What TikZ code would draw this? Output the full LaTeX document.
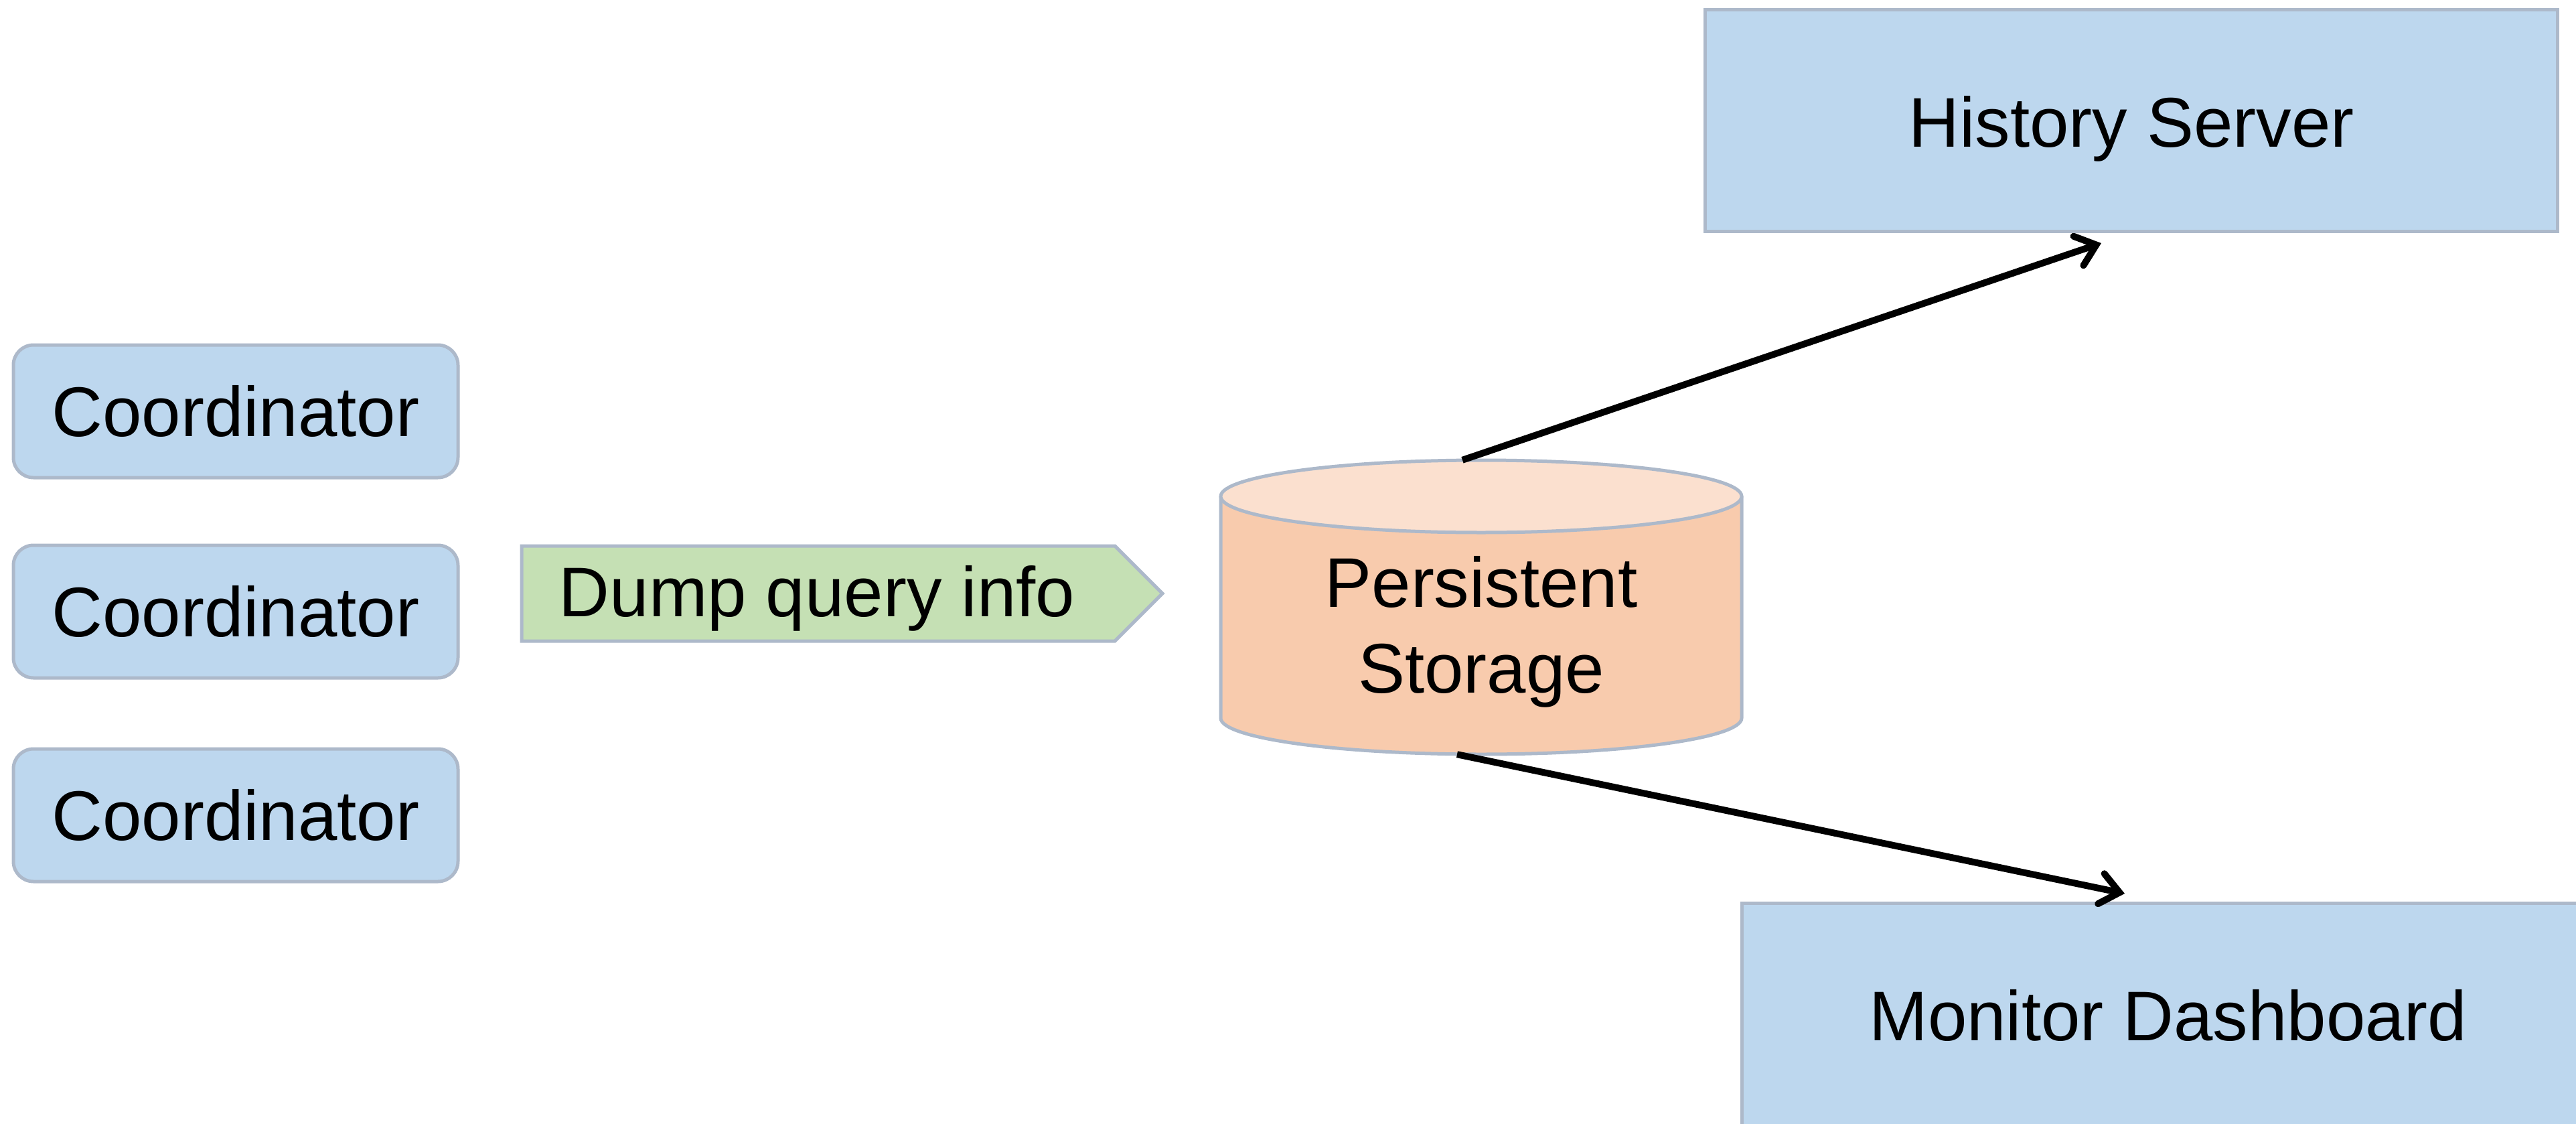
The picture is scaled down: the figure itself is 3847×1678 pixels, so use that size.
\documentclass[tikz,border=0pt]{standalone}
\usepackage{fontspec}
\setmainfont{Liberation Sans}
\usetikzlibrary{arrows.meta,shapes.symbols}
\definecolor{boxblue}{HTML}{BDD7EE}
\definecolor{edgegray}{HTML}{ADB9CA}
\definecolor{dumpgreen}{HTML}{C5E0B4}
\definecolor{cylside}{HTML}{F8CBAD}
\definecolor{cyltop}{HTML}{FBE0CF}
\begin{document}
\begin{tikzpicture}[x=1pt,y=-1pt,
  txt/.style={font=\fontsize{105}{128}\selectfont, text=black},
  coordbox/.style={draw=edgegray, line width=5pt, fill=boxblue, rounded corners=30pt, minimum width=664pt, minimum height=198pt, inner sep=0pt, txt},
  bigbox/.style={draw=edgegray, line width=5pt, fill=boxblue, inner sep=0pt, txt},
  flow/.style={line width=10pt, -{Straight Barb[length=28pt,width=46pt,line cap=round]}}]
\useasboundingbox (0,0) rectangle (3847,1678);
\node[coordbox] (c1) at (352,614) {Coordinator};
\node[coordbox] (c2) at (352,913) {Coordinator};
\node[coordbox] (c3) at (352,1217) {Coordinator};
\node[signal, signal to=east, signal pointer angle=90, draw=edgegray, fill=dumpgreen, line width=5pt, minimum width=957pt, minimum height=142pt, inner sep=0pt] (dump) at (1222,886) {};
\node[txt, inner sep=0pt] (dumptext) at ([xshift=-2pt,yshift=-7pt]dump.center) {Dump query info};
\node[bigbox, minimum width=1273pt, minimum height=331pt] (hist) at (3183,180) {};
\node[txt, inner sep=0pt] (histtext) at ([yshift=-12pt]hist.center) {History Server};
\node[bigbox, minimum width=1274pt, minimum height=335pt] (mon) at (3238,1516) {Monitor Dashboard};
% cylinder
\fill[cylside] (1823,741) -- (1823,1072) arc[start angle=180, end angle=0, x radius=389, y radius=54] -- (2601,741) -- cycle;
\draw[edgegray, line width=5pt] (1823,741) -- (1823,1072) arc[start angle=180, end angle=0, x radius=389, y radius=54] -- (2601,741);
\filldraw[fill=cyltop, draw=edgegray, line width=5pt] (2212,741) ellipse[x radius=389, y radius=54];
\node[minimum width=778pt, minimum height=439pt, inner sep=0pt] (store) at (2212,906.5) {};
\node[txt, align=center, inner sep=0pt] (storetext) at (2212,943) {Persistent\\Storage};
\draw[flow] ([xshift=-28pt]store.north) -- ([xshift=-45pt,yshift=-15pt]hist.south);
\draw[flow] ([xshift=-36pt]store.south) -- ([xshift=-65pt,yshift=12pt]mon.north);
\end{tikzpicture}
\end{document}
